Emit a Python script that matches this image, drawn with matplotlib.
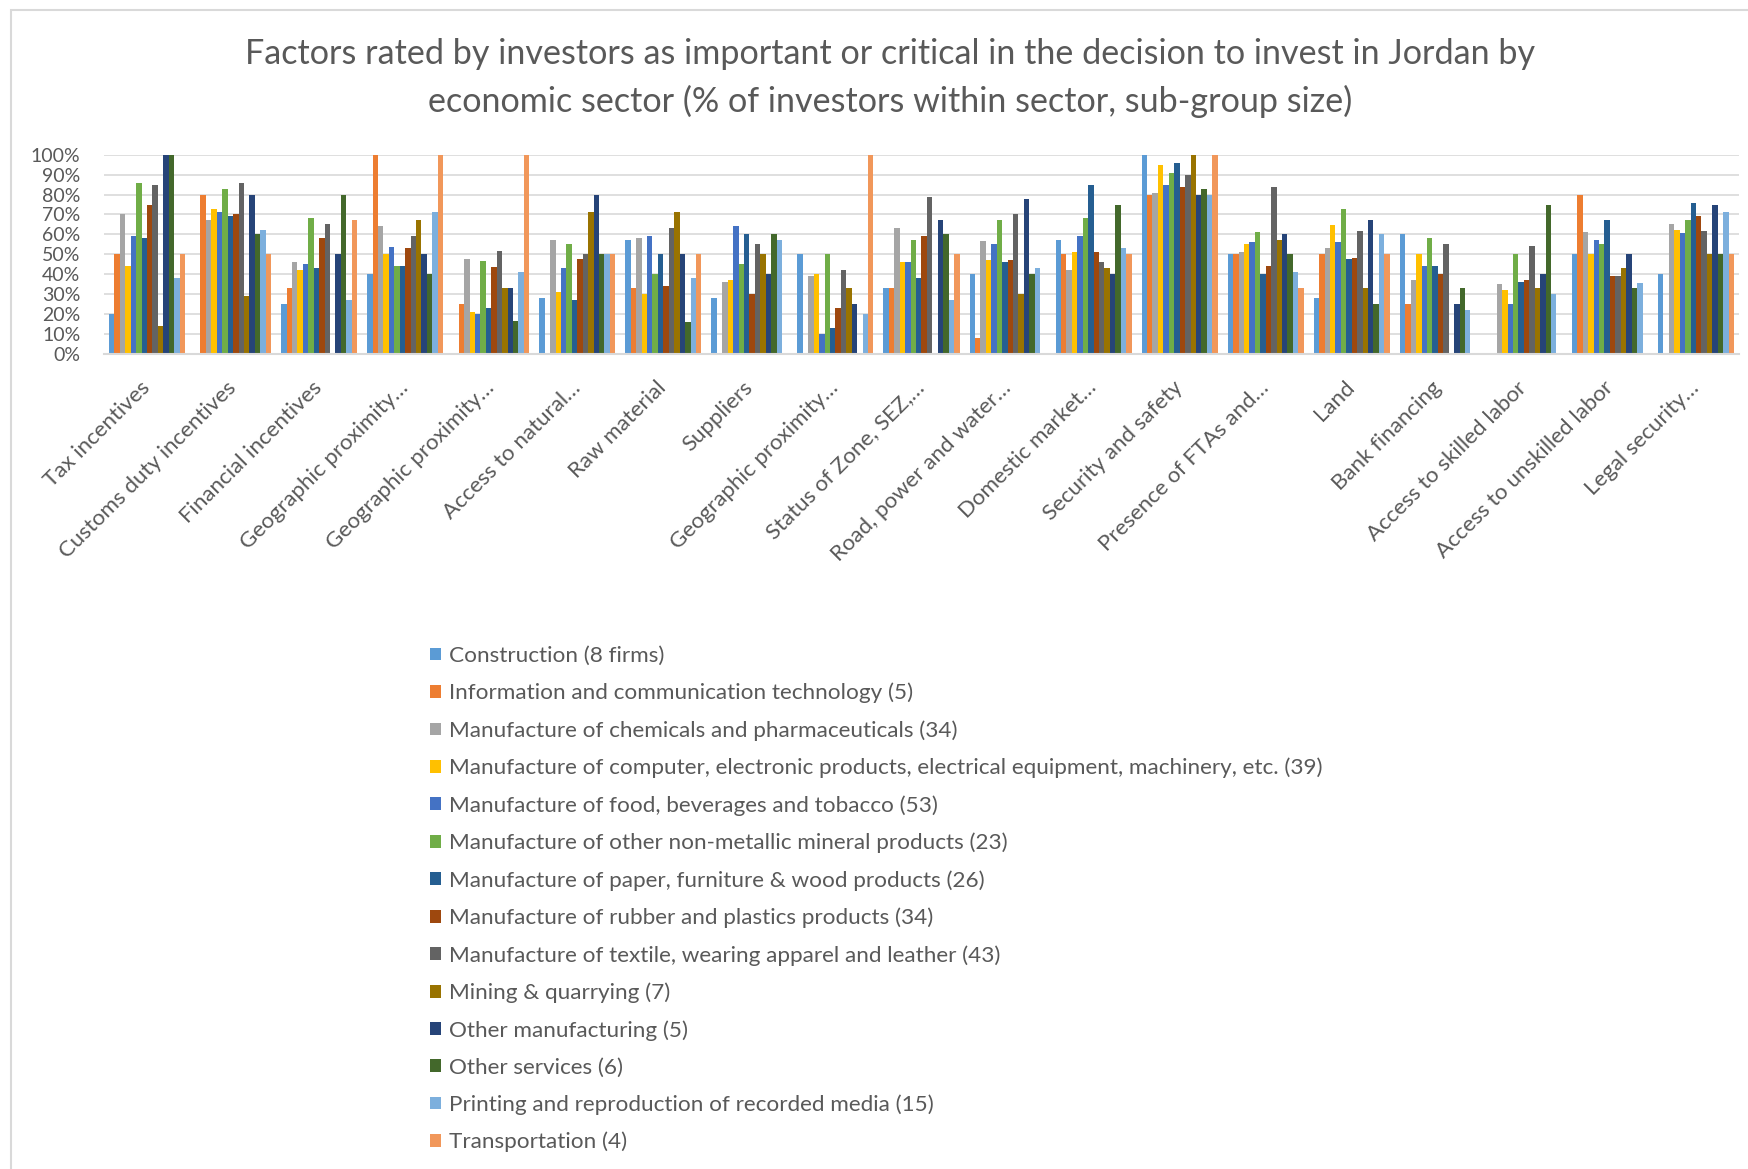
import matplotlib
matplotlib.use("Agg")
import matplotlib.pyplot as plt
import numpy as np
from matplotlib.patches import Rectangle, Patch

plt.rcParams["font.family"] = ["Lato", "DejaVu Sans"]

categories = [
    "Tax incentives", "Customs duty incentives", "Financial incentives",
    "Geographic proximity…", "Geographic proximity…", "Access to natural…",
    "Raw material", "Suppliers", "Geographic proximity…",
    "Status of Zone, SEZ,…", "Road, power and water…", "Domestic market…",
    "Security and safety", "Presence of FTAs and…", "Land", "Bank financing",
    "Access to skilled labor", "Access to unskilled labor", "Legal security…",
]

sectors = [
    "Construction (8 firms)",
    "Information and communication technology (5)",
    "Manufacture of chemicals and pharmaceuticals (34)",
    "Manufacture of computer, electronic products, electrical equipment, machinery, etc. (39)",
    "Manufacture of food, beverages and tobacco (53)",
    "Manufacture of other non-metallic mineral products (23)",
    "Manufacture of paper, furniture & wood products (26)",
    "Manufacture of rubber and plastics products (34)",
    "Manufacture of textile, wearing apparel and leather (43)",
    "Mining & quarrying (7)",
    "Other manufacturing (5)",
    "Other services (6)",
    "Printing and reproduction of recorded media (15)",
    "Transportation (4)",
]

# % of investors within each sector rating the factor important or critical
construction   = [20, 0, 25, 40, 0, 28, 57, 28, 50, 33, 40, 57, 100, 50, 28, 60, 0, 50, 40]
ict            = [50, 80, 33, 100, 25, 0, 33, 0, 0, 33, 8, 50, 80, 50, 50, 25, 0, 80, 0]
chemicals      = [70, 67, 46, 64, 47.5, 57, 58, 36, 39, 63, 56.5, 42, 81, 51, 53, 37, 35, 61, 65]
computer       = [44, 73, 42, 50, 21, 31, 30, 37, 40, 46, 47, 51, 95, 55, 64.5, 50, 32, 50, 62]
food           = [59, 71, 45, 53.5, 20, 43, 59, 64, 10, 46, 55, 59, 85, 56, 56, 44, 25, 57, 60.5]
non_metallic   = [86, 83, 68, 44, 46.5, 55, 40, 45, 50, 57, 67, 68, 91, 61, 73, 58, 50, 55, 67]
paper          = [58, 69, 43, 44, 23, 27, 50, 60, 13, 38, 46, 85, 96, 40, 47.5, 44, 36, 67, 76]
rubber         = [75, 70, 58, 53, 43.5, 47.5, 34, 30, 23, 59, 47, 51, 84, 44, 48, 40, 37, 39, 69]
textile        = [85, 86, 65, 59, 51.5, 50, 63, 55, 42, 79, 70, 46, 90, 84, 61.5, 55, 54, 39, 61.5]
mining         = [14, 29, 0, 67, 33, 71, 71, 50, 33, 0, 30, 43, 100, 57, 33, 0, 33, 43, 50]
other_manuf    = [100, 80, 50, 50, 33, 80, 50, 40, 25, 67, 78, 40, 80, 60, 67, 25, 40, 50, 75]
other_services = [100, 60, 80, 40, 16.5, 50, 16, 60, 0, 60, 40, 75, 83, 50, 25, 33, 75, 33, 50]
printing       = [38, 62, 27, 71, 41, 50, 38, 57, 20, 27, 43, 53, 80, 41, 60, 22, 30, 35.5, 71]
transportation = [50, 50, 67, 100, 100, 50, 50, 0, 100, 50, 0, 50, 100, 33, 50, 0, 0, 0, 50]

y_ticks = [0, 10, 20, 30, 40, 50, 60, 70, 80, 90, 100]

series = [construction, ict, chemicals, computer, food, non_metallic, paper,
          rubber, textile, mining, other_manuf, other_services, printing,
          transportation]
colors = ["#5B9BD5", "#ED7D31", "#A5A5A5", "#FFC000", "#4472C4", "#70AD47",
          "#255E91", "#9E480E", "#636363", "#997300", "#264478", "#43682B",
          "#7CAFDD", "#F1975A"]

W, H = 1749, 1169
fig = plt.figure(figsize=(W / 100, H / 100), dpi=100)
fig.patch.set_facecolor("white")

# outer chart border (continues past the right and bottom edges)
fig.patches.append(Rectangle((11 / W, -0.1), 1.2, 1 - 10 / H + 0.1,
                             transform=fig.transFigure, fill=False,
                             edgecolor="#D9D9D9", linewidth=1.5))

ax = fig.add_axes([104 / W, 1 - 354 / H, 1635 / W, (354 - 154.7) / H])

n = len(series)
x = np.arange(len(categories))
bw = 0.884 / n
for j, (vals, col) in enumerate(zip(series, colors)):
    ax.bar(x + (j - (n - 1) / 2) * bw, np.array(vals) / 100, width=bw,
           color=col, linewidth=0, zorder=3)

ax.set_xlim(-0.5, len(categories) - 0.5)
ax.set_ylim(0, 1)
ax.set_yticks(np.array(y_ticks) / 100)
ax.set_yticklabels([f"{t}%" for t in y_ticks])
ax.grid(axis="y", color="#D9D9D9", linewidth=1.2, zorder=0)
for s in ["top", "right", "left"]:
    ax.spines[s].set_visible(False)
ax.spines["bottom"].set_color("#D9D9D9")
ax.spines["bottom"].set_linewidth(1.5)
ax.spines["bottom"].set_zorder(4)
ax.tick_params(axis="y", length=0, pad=17, labelsize=14, labelcolor="#595959")
ax.tick_params(axis="x", length=0, pad=22, labelsize=16, labelcolor="#595959")
ax.set_xticks(x)
ax.set_xticklabels(categories, rotation=45, ha="right", va="center",
                   rotation_mode="anchor")

title_kw = dict(ha="center", va="center", fontsize=24.6, color="#595959")
fig.text(890 / W, 1 - 54 / H,
         "Factors rated by investors as important or critical in the decision to invest in Jordan by",
         **title_kw)
fig.text(890 / W, 1 - 101 / H,
         "economic sector (% of investors within sector, sub-group size)",
         **title_kw)

handles = [Patch(facecolor=c, edgecolor="none") for c in colors]
fig.legend(handles, sectors, loc="upper left",
           bbox_to_anchor=(430 / W, 1 - 646 / H), frameon=False,
           fontsize=16.2, labelcolor="#595959", borderpad=0,
           handlelength=0.5, handleheight=0.5, handletextpad=0.35,
           labelspacing=0.75, borderaxespad=0)

fig.savefig("out.png", dpi=100, facecolor="white")
